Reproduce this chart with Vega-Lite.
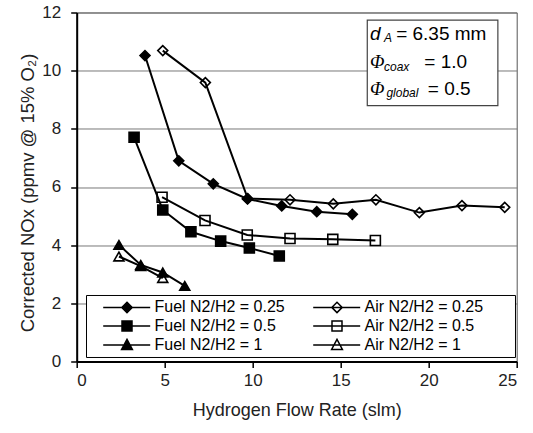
{
  "$schema": "https://vega.github.io/schema/vega-lite/v6.json",
  "width": 440,
  "height": 349,
  "autosize": {"type": "none"},
  "padding": {"left": 76.7, "top": 12.5, "right": 16.3, "bottom": 71.3},
  "background": "white",
  "config": {
    "view": {"stroke": "#555", "strokeWidth": 1},
    "font": "Liberation Sans",
    "axis": {
      "labelFont": "Liberation Sans",
      "titleFont": "Liberation Sans",
      "labelColor": "#222",
      "titleColor": "#222",
      "titleFontWeight": "normal",
      "domainColor": "black",
      "domainWidth": 2,
      "tickColor": "black",
      "tickWidth": 1.5,
      "tickSize": 6
    }
  },
  "datasets": {
    "pts": [
      {"series": "Fuel N2/H2 = 0.25", "x": 3.88, "y": 10.52},
      {"series": "Fuel N2/H2 = 0.25", "x": 5.8, "y": 6.9},
      {"series": "Fuel N2/H2 = 0.25", "x": 7.76, "y": 6.11},
      {"series": "Fuel N2/H2 = 0.25", "x": 9.7, "y": 5.59},
      {"series": "Fuel N2/H2 = 0.25", "x": 11.65, "y": 5.35},
      {"series": "Fuel N2/H2 = 0.25", "x": 13.64, "y": 5.15},
      {"series": "Fuel N2/H2 = 0.25", "x": 15.66, "y": 5.06},
      {"series": "Air N2/H2 = 0.25", "x": 4.89, "y": 10.69},
      {"series": "Air N2/H2 = 0.25", "x": 7.31, "y": 9.59},
      {"series": "Air N2/H2 = 0.25", "x": 9.72, "y": 5.6},
      {"series": "Air N2/H2 = 0.25", "x": 12.12, "y": 5.56},
      {"series": "Air N2/H2 = 0.25", "x": 14.58, "y": 5.42},
      {"series": "Air N2/H2 = 0.25", "x": 17.0, "y": 5.56},
      {"series": "Air N2/H2 = 0.25", "x": 19.47, "y": 5.12},
      {"series": "Air N2/H2 = 0.25", "x": 21.89, "y": 5.36},
      {"series": "Air N2/H2 = 0.25", "x": 24.32, "y": 5.3},
      {"series": "Fuel N2/H2 = 0.5", "x": 3.26, "y": 7.71},
      {"series": "Fuel N2/H2 = 0.5", "x": 4.89, "y": 5.21},
      {"series": "Fuel N2/H2 = 0.5", "x": 6.49, "y": 4.46},
      {"series": "Fuel N2/H2 = 0.5", "x": 8.18, "y": 4.14},
      {"series": "Fuel N2/H2 = 0.5", "x": 9.81, "y": 3.9},
      {"series": "Fuel N2/H2 = 0.5", "x": 11.51, "y": 3.63},
      {"series": "Air N2/H2 = 0.5", "x": 4.85, "y": 5.65},
      {"series": "Air N2/H2 = 0.5", "x": 7.29, "y": 4.85},
      {"series": "Air N2/H2 = 0.5", "x": 9.69, "y": 4.35},
      {"series": "Air N2/H2 = 0.5", "x": 12.12, "y": 4.23},
      {"series": "Air N2/H2 = 0.5", "x": 14.55, "y": 4.2},
      {"series": "Air N2/H2 = 0.5", "x": 16.97, "y": 4.16},
      {"series": "Fuel N2/H2 = 1", "x": 2.4, "y": 4.01},
      {"series": "Fuel N2/H2 = 1", "x": 3.64, "y": 3.32},
      {"series": "Fuel N2/H2 = 1", "x": 4.89, "y": 3.06},
      {"series": "Fuel N2/H2 = 1", "x": 6.14, "y": 2.6},
      {"series": "Air N2/H2 = 1", "x": 2.4, "y": 3.61},
      {"series": "Air N2/H2 = 1", "x": 3.64, "y": 3.28},
      {"series": "Air N2/H2 = 1", "x": 4.89, "y": 2.87}
    ],
    "box": [{"x1": 16.51, "x2": 23.93, "y1": 11.74, "y2": 8.8}],
    "symItalic": [
      {"t": "d", "x": 16.66, "y": 11.055}
    ],
    "phi": [
      {"t": "Φ", "x": 16.66, "y": 10.08},
      {"t": "Φ", "x": 16.66, "y": 9.165}
    ],
    "subs": [
      {"t": "A", "x": 17.46, "y": 10.976},
      {"t": "coax", "x": 17.46, "y": 9.99},
      {"t": "global", "x": 17.6, "y": 9.11}
    ],
    "eqs": [
      {"t": "= 6.35 mm", "x": 18.15, "y": 11.055},
      {"t": "= 1.0", "x": 19.75, "y": 10.08},
      {"t": "= 0.5", "x": 19.95, "y": 9.165}
    ]
  },
  "layer": [
    {
      "data": {"name": "pts"},
      "mark": {"type": "line", "color": "black", "strokeWidth": 2},
      "encoding": {
        "x": {
          "field": "x", "type": "quantitative",
          "scale": {"domain": [0, 25], "nice": false, "zero": false},
          "axis": {
            "values": [0, 5, 10, 15, 20, 25],
            "title": "Hydrogen Flow Rate (slm)",
            "grid": false,
            "labelFontSize": 17,
            "titleFontSize": 18,
            "labelPadding": 5,
            "titlePadding": 13
          }
        },
        "y": {
          "field": "y", "type": "quantitative",
          "scale": {"domain": [0, 12], "nice": false},
          "axis": {
            "values": [0, 2, 4, 6, 8, 10, 12],
            "title": "Corrected NOx (ppmv @ 15% O₂)",
            "grid": true,
            "gridColor": "#777",
            "gridWidth": 1,
            "labelFontSize": 17,
            "titleFontSize": 18.5,
            "titleY": 180,
            "labelPadding": 10,
            "titlePadding": 4
          }
        },
        "detail": {"field": "series", "type": "nominal"}
      }
    },
    {
      "data": {"name": "pts"},
      "mark": {"type": "point", "filled": true, "stroke": "black", "strokeWidth": 1.6, "size": 100, "opacity": 1},
      "encoding": {
        "x": {"field": "x", "type": "quantitative"},
        "y": {"field": "y", "type": "quantitative"},
        "shape": {
          "field": "series", "type": "nominal",
          "scale": {
            "domain": ["Air N2/H2 = 0.25", "Air N2/H2 = 0.5", "Air N2/H2 = 1", "Fuel N2/H2 = 0.25", "Fuel N2/H2 = 0.5", "Fuel N2/H2 = 1"],
            "range": ["diamond", "square", "triangle-up", "diamond", "square", "triangle-up"]
          },
          "legend": null
        },
        "fill": {
          "field": "series", "type": "nominal",
          "scale": {
            "domain": ["Fuel N2/H2 = 0.25", "Fuel N2/H2 = 0.5", "Fuel N2/H2 = 1", "Air N2/H2 = 0.25", "Air N2/H2 = 0.5", "Air N2/H2 = 1"],
            "range": ["black", "black", "black", "transparent", "transparent", "transparent"]
          },
          "legend": {
            "title": null,
            "orient": "none",
            "legendX": 9.3,
            "legendY": 282.5,
            "columns": 2,
            "strokeColor": "black",
            "fillColor": "white",
            "padding": 4,
            "rowPadding": 2,
            "columnPadding": 15,
            "labelFontSize": 16,
            "labelFont": "Liberation Sans",
            "labelColor": "black",
            "labelLimit": 300,
            "symbolSize": 16,
            "symbolStrokeWidth": 1.5,
            "symbolStrokeColor": "black",
            "labelOffset": 48.5,
            "symbolType": {"expr": "datum.value === 'Fuel N2/H2 = 0.25' ? 'M2.6,0H26.1M14.5,-2.6L17.1,0L14.5,2.6L11.9,0Z' : datum.value === 'Fuel N2/H2 = 0.5' ? 'M2.6,0H26.1M12,-2.5H17V2.5H12Z' : datum.value === 'Fuel N2/H2 = 1' ? 'M2.6,0H26.1M14.5,-2.8L17.2,2.2H11.8Z' : datum.value === 'Air N2/H2 = 0.25' ? 'M2.6,0H26.1M14.5,-2.6L17.1,0L14.5,2.6L11.9,0ZM100,0' : datum.value === 'Air N2/H2 = 0.5' ? 'M2.6,0H26.1M12,-2.5H17V2.5H12ZM100,0' : 'M2.6,0H26.1M14.5,-2.8L17.2,2.2H11.8ZM100,0'"}
          }
        }
      }
    },
    {
      "data": {"name": "box"},
      "mark": {"type": "rect", "fill": "white", "stroke": "#444", "strokeWidth": 1.2},
      "encoding": {
        "x": {"field": "x1", "type": "quantitative"},
        "x2": {"field": "x2"},
        "y": {"field": "y1", "type": "quantitative"},
        "y2": {"field": "y2"}
      }
    },
    {
      "data": {"name": "symItalic"},
      "mark": {"type": "text", "font": "Liberation Sans", "fontStyle": "italic", "fontSize": 19, "align": "left", "baseline": "alphabetic", "color": "black"},
      "encoding": {
        "x": {"field": "x", "type": "quantitative"},
        "y": {"field": "y", "type": "quantitative"},
        "text": {"field": "t"}
      }
    },
    {
      "data": {"name": "phi"},
      "mark": {"type": "text", "font": "Liberation Serif", "fontStyle": "italic", "fontSize": 19, "align": "left", "baseline": "alphabetic", "color": "black"},
      "encoding": {
        "x": {"field": "x", "type": "quantitative"},
        "y": {"field": "y", "type": "quantitative"},
        "text": {"field": "t"}
      }
    },
    {
      "data": {"name": "subs"},
      "mark": {"type": "text", "font": "Liberation Sans", "fontStyle": "italic", "fontSize": 12, "align": "left", "baseline": "alphabetic", "color": "black"},
      "encoding": {
        "x": {"field": "x", "type": "quantitative"},
        "y": {"field": "y", "type": "quantitative"},
        "text": {"field": "t"}
      }
    },
    {
      "data": {"name": "eqs"},
      "mark": {"type": "text", "font": "Liberation Sans", "fontSize": 19, "align": "left", "baseline": "alphabetic", "color": "black"},
      "encoding": {
        "x": {"field": "x", "type": "quantitative"},
        "y": {"field": "y", "type": "quantitative"},
        "text": {"field": "t"}
      }
    }
  ]
}
